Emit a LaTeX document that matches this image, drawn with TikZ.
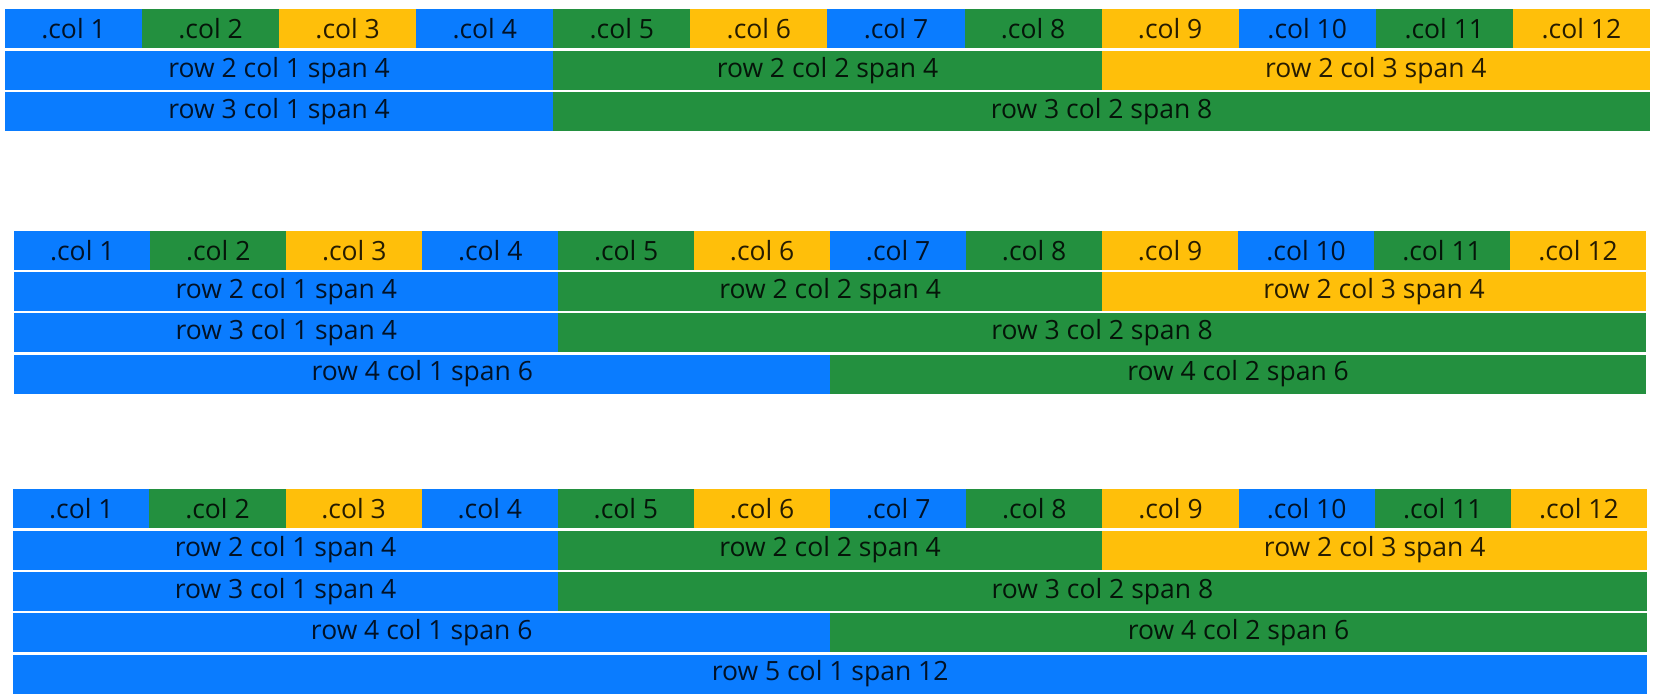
\documentclass[tikz,border=0pt]{standalone}
\usepackage{fontspec}
\setmainfont{Open Sans}
\usetikzlibrary{positioning}
\definecolor{cblue}{HTML}{0A7CFF}
\definecolor{cgreen}{HTML}{23903F}
\definecolor{cyellow}{HTML}{FFBF0A}
\def\rh{39}
\def\rp{41.3}

\begin{document}
\begin{tikzpicture}[
    x=1pt, y=-1pt,
    every node/.style={font=\fontsize{26.5}{30}\selectfont},
    cell/.style={inner sep=0pt, outer sep=0pt, minimum height=\rh pt,
                 anchor=north west, text=black, text opacity=0.85},
]
\useasboundingbox[fill=white] (0,0) rectangle (1659,700);

% ---------------------------------------------------------- grid (a) three rows
\begin{scope}[shift={(5,9.5)}]
  \def\cw{137.08}
  \foreach \k/\col [count=\c from 0] in
      {1/cblue, 2/cgreen, 3/cyellow, 4/cblue, 5/cgreen, 6/cyellow,
       7/cblue, 8/cgreen, 9/cyellow, 10/cblue, 11/cgreen, 12/cyellow} {
    \node[cell, fill=\col, minimum width=\cw pt] (ga-1-\k) at (\c*\cw, 0) {.col \k};
  }
  \foreach \r/\s/\n/\k/\col in
      {2/0/4/1/cblue, 2/4/4/2/cgreen, 2/8/4/3/cyellow,
       3/0/4/1/cblue, 3/4/8/2/cgreen} {
    \pgfmathsetmacro{\w}{\n*\cw}
    \node[cell, fill=\col, minimum width=\w pt] (ga-\r-\k)
        at (\s*\cw, {(\r-1)*\rp}) {row \r{} col \k{} span \n};
  }
\end{scope}

% ---------------------------------------------------------- grid (b) four rows
\begin{scope}[shift={(14.3,230.7)}]
  \def\cw{135.98}
  \foreach \k/\col [count=\c from 0] in
      {1/cblue, 2/cgreen, 3/cyellow, 4/cblue, 5/cgreen, 6/cyellow,
       7/cblue, 8/cgreen, 9/cyellow, 10/cblue, 11/cgreen, 12/cyellow} {
    \node[cell, fill=\col, minimum width=\cw pt] (gb-1-\k) at (\c*\cw, 0) {.col \k};
  }
  \foreach \r/\s/\n/\k/\col in
      {2/0/4/1/cblue, 2/4/4/2/cgreen, 2/8/4/3/cyellow,
       3/0/4/1/cblue, 3/4/8/2/cgreen,
       4/0/6/1/cblue, 4/6/6/2/cgreen} {
    \pgfmathsetmacro{\w}{\n*\cw}
    \node[cell, fill=\col, minimum width=\w pt] (gb-\r-\k)
        at (\s*\cw, {(\r-1)*\rp}) {row \r{} col \k{} span \n};
  }
\end{scope}

% ---------------------------------------------------------- grid (c) five rows
\begin{scope}[shift={(13.3,489.3)}]
  \def\cw{136.14}
  \foreach \k/\col [count=\c from 0] in
      {1/cblue, 2/cgreen, 3/cyellow, 4/cblue, 5/cgreen, 6/cyellow,
       7/cblue, 8/cgreen, 9/cyellow, 10/cblue, 11/cgreen, 12/cyellow} {
    \node[cell, fill=\col, minimum width=\cw pt] (gc-1-\k) at (\c*\cw, 0) {.col \k};
  }
  \foreach \r/\s/\n/\k/\col in
      {2/0/4/1/cblue, 2/4/4/2/cgreen, 2/8/4/3/cyellow,
       3/0/4/1/cblue, 3/4/8/2/cgreen,
       4/0/6/1/cblue, 4/6/6/2/cgreen,
       5/0/12/1/cblue} {
    \pgfmathsetmacro{\w}{\n*\cw}
    \node[cell, fill=\col, minimum width=\w pt] (gc-\r-\k)
        at (\s*\cw, {(\r-1)*\rp}) {row \r{} col \k{} span \n};
  }
\end{scope}

\end{tikzpicture}
\end{document}
